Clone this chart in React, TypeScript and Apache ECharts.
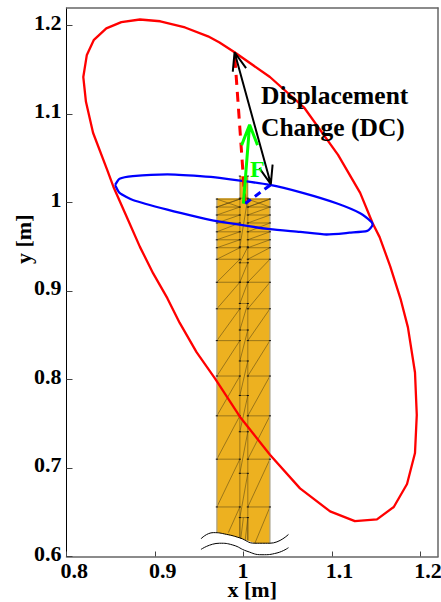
import React, { useEffect, useRef } from "react";
import * as echarts from "echarts";

const xTicks = [0.8, 0.9, 1, 1.1, 1.2];
const yTicks = [0.6, 0.7, 0.8, 0.9, 1, 1.1, 1.2];

const redCurve = [
  [0.99, 1.17], [1.03, 1.142], [1.069, 1.107], [1.107, 1.054], [1.132, 1.011], [1.146, 0.977],
  [1.154, 0.961], [1.166, 0.928], [1.178, 0.89], [1.186, 0.859], [1.194, 0.808], [1.196, 0.76], [1.194, 0.717],
  [1.185, 0.682], [1.17, 0.656], [1.151, 0.642], [1.126, 0.64], [1.098, 0.651], [1.064, 0.677],
  [1.03, 0.715], [0.996, 0.758], [0.968, 0.801], [0.947, 0.831], [0.928, 0.864], [0.914, 0.892],
  [0.898, 0.92], [0.883, 0.95], [0.868, 0.984], [0.853, 1.018], [0.846, 1.037], [0.83, 1.079],
  [0.822, 1.114], [0.819, 1.142], [0.823, 1.167], [0.831, 1.184], [0.845, 1.197], [0.862, 1.204],
  [0.883, 1.207], [0.906, 1.205], [0.934, 1.198], [0.96, 1.188], [0.973, 1.181], [0.99, 1.17],
];

const blueCurve = [
  [0.855, 1.02], [0.86, 1.027], [0.875, 1.03], [0.914, 1.032], [0.951, 1.03], [0.973, 1.028],
  [1.03, 1.02], [1.067, 1.011], [1.106, 0.999], [1.132, 0.988], [1.145, 0.978], [1.146, 0.975],
  [1.14, 0.968], [1.12, 0.966], [1.094, 0.964], [1.064, 0.967], [1.03, 0.97], [0.97, 0.979],
  [0.951, 0.983], [0.914, 0.992], [0.875, 1.003], [0.86, 1.011], [0.855, 1.02],
];

const beamOutline = [
  [0.97, 1.005], [0.996, 1.005], [0.996, 1.03], [1.005, 1.03], [1.005, 1.005], [1.03, 1.005],
  [1.03, 0.615], [1.013, 0.615], [0.996, 0.621], [0.981, 0.625], [0.97, 0.627],
];
const columnXs = [0.97, 0.996, 1.005, 1.03];
const outerLevels = [1.004, 0.995, 0.986, 0.977, 0.967, 0.958, 0.949, 0.936, 0.91, 0.88, 0.844, 0.804, 0.759, 0.71, 0.656];
const innerLevels = [1.03, 1.005, 0.95, 0.932, 0.91, 0.886, 0.856, 0.821, 0.782, 0.741, 0.694, 0.644];
const extraMesh = [
  [[0.983, 0.627], [0.996, 0.656]], [[1.013, 0.615], [1.03, 0.656]],
  [[0.996, 0.644], [0.996, 0.621]], [[1.005, 0.644], [1.005, 0.618]], [[0.997, 0.62], [1.0, 0.644]],
  [[1.002, 0.618], [1.005, 0.644]], [[0.97, 1.004], [0.996, 0.995]], [[1.005, 1.004], [1.03, 0.995]],
  [[0.97, 0.995], [0.996, 1.004]], [[1.005, 0.995], [1.03, 1.004]],
];

const waveUpper = [[0.952, 0.62], [0.966, 0.627], [0.981, 0.625], [0.996, 0.621], [1.013, 0.615], [1.03, 0.615], [1.051, 0.625]];
const waveLower = [[0.952, 0.608], [0.973, 0.615], [0.988, 0.613], [1.004, 0.606], [1.021, 0.602], [1.038, 0.604], [1.051, 0.61]];

const blackArrow = [
  [1.003, 1.152], [0.99, 1.17], [0.988, 1.148], [0.99, 1.17], [1.031, 1.021],
  [1.033, 1.043], [1.031, 1.021], [1.018, 1.039],
];
const redDashed = [[1.002, 0.999], [0.99, 1.169]];
const blueDashed = [[1.002, 0.999], [1.032, 1.021]];
const greenArrow = [[1.0, 0.999], [1.007, 1.088], [0.998, 1.065], [1.007, 1.088], [1.016, 1.065]];

const FONT = "'Liberation Serif', 'Times New Roman', serif";

function lineSeries(data: number[][], color: string, width: number, extra: any = {}) {
  return {
    type: "line",
    data,
    symbol: "none",
    silent: true,
    clip: false,
    lineStyle: { color, width, ...(extra.lineStyle || {}) },
    smooth: extra.smooth || false,
    z: extra.z || 5,
  };
}

function renderBeam(_: any, api: any) {
  const c = (p: number[]) => api.coord(p);
  const children: any[] = [];
  children.push({
    type: "polygon",
    shape: { points: beamOutline.map(c) },
    style: { fill: "#EDB120", stroke: "none" },
  });
  const seg = (a: number[], b: number[], color = "rgba(90,70,20,0.7)", w = 0.8) => {
    const p = c(a);
    const q = c(b);
    children.push({
      type: "line",
      shape: { x1: p[0], y1: p[1], x2: q[0], y2: q[1] },
      style: { stroke: color, lineWidth: w },
    });
  };
  [[columnXs[0], columnXs[1]], [columnXs[2], columnXs[3]]].forEach(([l, r]) => {
    outerLevels.forEach((y, i) => {
      seg([l, y], [r, y]);
      if (i + 1 < outerLevels.length) seg([l, outerLevels[i + 1]], [r, y]);
    });
  });
  innerLevels.slice(1).forEach((y, i) => {
    seg([columnXs[1], y], [columnXs[2], y]);
    const next = innerLevels[i + 2];
    if (next !== undefined) seg([columnXs[1], next], [columnXs[2], y]);
  });
  seg([columnXs[1], 1.03], [columnXs[1], 0.621]);
  seg([columnXs[2], 1.03], [columnXs[2], 0.618]);
  extraMesh.forEach(([a, b]) => seg(a, b));
  seg([columnXs[0], 1.005], [columnXs[0], 0.627], "#a8a08a", 1.2);
  seg([columnXs[3], 1.005], [columnXs[3], 0.615], "#a8a08a", 1.2);
  const nodeW = 0.0012;
  columnXs.forEach((x) => {
    outerLevels.forEach((y) => seg([x - nodeW, y], [x + nodeW, y], "#111", 1));
  });
  [columnXs[1], columnXs[2]].forEach((x) => {
    innerLevels.forEach((y) => seg([x - nodeW, y], [x + nodeW, y], "#111", 1));
  });
  return { type: "group", children };
}

export default function App() {
  const ref = useRef<HTMLDivElement>(null);
  useEffect(() => {
    document.body.style.margin = "0";
    const chart = echarts.init(ref.current!, undefined, { renderer: "svg" });
    const labelStyle = { color: "#000", fontFamily: FONT, fontWeight: "bold" as const, fontSize: 22 };
    const nameStyle = { color: "#000", fontFamily: FONT, fontWeight: "bold" as const, fontSize: 22 };
    chart.setOption({
      animation: false,
      backgroundColor: "#fff",
      grid: { left: 66.5, right: 3, top: 8, bottom: 45.5, outerBoundsMode: "none" },
      xAxis: [
        {
          type: "value",
          min: 0.8,
          max: 1.22,
          splitLine: { show: false },
          axisLine: { onZero: false, lineStyle: { color: "#666", width: 1.5 } },
          axisTick: { inside: true, length: 5, customValues: xTicks, lineStyle: { color: "#444", width: 1 } },
          axisLabel: { ...labelStyle, customValues: xTicks, align: "left", margin: 5, lineHeight: 18, padding: [0, 0, 0, -6], hideOverlap: false },
          name: "x [m]",
          nameLocation: "middle",
          nameGap: 24,
          nameMoveOverlap: false,
          nameTextStyle: { ...nameStyle, lineHeight: 18 },
        },
        {
          type: "value",
          position: "top",
          min: 0.8,
          max: 1.22,
          splitLine: { show: false },
          axisLine: { onZero: false, lineStyle: { color: "#666", width: 1.5 } },
          axisTick: { show: false },
          axisLabel: { show: false },
        },
      ],
      yAxis: [
        {
          type: "value",
          min: 0.6,
          max: 1.22,
          splitLine: { show: false },
          axisLine: { onZero: false, lineStyle: { color: "#000", width: 1 } },
          axisTick: { inside: true, length: 6, customValues: yTicks, lineStyle: { color: "#444", width: 1 } },
          axisLabel: { ...labelStyle, customValues: yTicks, margin: 5, verticalAlign: "bottom", lineHeight: 7, hideOverlap: false },
          name: "y [m]",
          nameLocation: "middle",
          nameGap: 32,
          nameMoveOverlap: false,
          nameTextStyle: { ...nameStyle, padding: [0, 0, 0, 86] },
        },
        {
          type: "value",
          position: "right",
          min: 0.6,
          max: 1.22,
          splitLine: { show: false },
          axisLine: { onZero: false, lineStyle: { color: "#666", width: 1.5 } },
          axisTick: { show: false },
          axisLabel: { show: false },
        },
      ],
      series: [
        { type: "custom", renderItem: renderBeam, data: [[1, 1]], silent: true, clip: false, z: 2 },
        lineSeries(waveUpper, "#000", 1, { smooth: 0.5, z: 3 }),
        lineSeries(waveLower, "#000", 1, { smooth: 0.5, z: 3 }),
        lineSeries(redCurve, "#ff0000", 2.3),
        lineSeries(blueCurve, "#0000ff", 2.3, { smooth: 0.2 }),
        lineSeries(redDashed, "#ff0000", 3, { lineStyle: { type: [10, 7] }, z: 6 }),
        lineSeries(blueDashed, "#0000ff", 3, { lineStyle: { type: [7, 5] }, z: 6 }),
        lineSeries(blackArrow, "#000", 2, { z: 7 }),
        lineSeries(greenArrow, "#00ff00", 3, { z: 8 }),
      ],
      graphic: [
        { type: "text", x: 261, y: 82, z: 20, style: { text: "Displacement", fill: "#000", font: `bold 25.5px ${FONT}` } },
        { type: "text", x: 261, y: 114, z: 20, style: { text: "Change (DC)", fill: "#000", font: `bold 25.5px ${FONT}` } },
        { type: "text", x: 250, y: 157, z: 20, style: { text: "F", fill: "#00ff00", font: `bold 24px ${FONT}` } },
      ],
    });
    return () => chart.dispose();
  }, []);
  return <div ref={ref} style={{ width: 441, height: 602 }} />;
}
